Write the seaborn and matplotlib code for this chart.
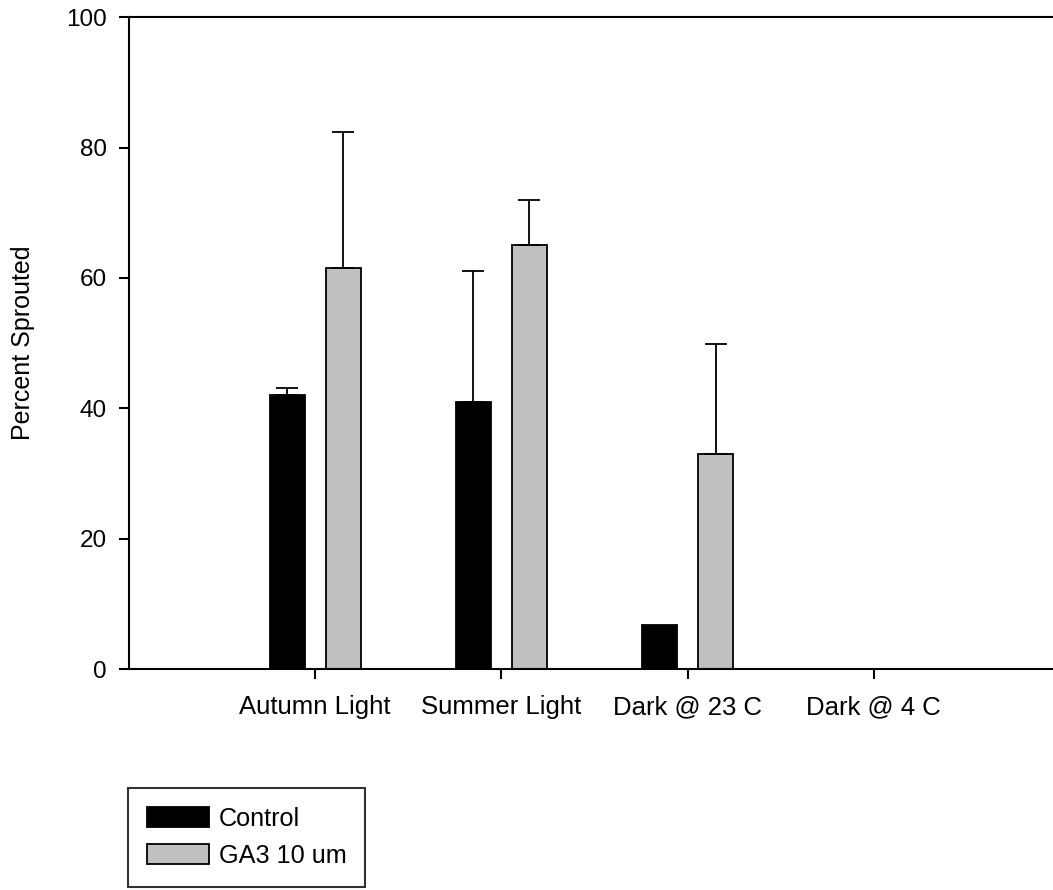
import matplotlib as mpl
mpl.use('Agg')
import matplotlib.pyplot as plt
import numpy as np
import pandas as pd
import seaborn as sns

# values
conditions = ['Autumn Light', 'Summer Light', 'Dark @ 23 C', 'Dark @ 4 C']
treatments = ['Control', 'GA3 10 um']
control_mean = [42.1, 40.9, 6.7, 0.0]
control_err = [1.0, 20.1, 0.0, 0.0]
ga3_mean = [61.6, 65.0, 33.0, 0.0]
ga3_err = [20.8, 7.0, 16.8, 0.0]
y_ticks = [0, 20, 40, 60, 80, 100]

df = pd.DataFrame({
    'Condition': conditions * 2,
    'Treatment': [treatments[0]] * 4 + [treatments[1]] * 4,
    'Percent': control_mean + ga3_mean,
})
errs = {treatments[0]: control_err, treatments[1]: ga3_err}

sns.set_style('white')
plt.rcParams['font.family'] = ['Liberation Sans', 'DejaVu Sans']
plt.rcParams['text.color'] = 'black'
plt.rcParams['axes.labelcolor'] = 'black'

fig = plt.figure(figsize=(10.53, 8.90), dpi=100)
ax = fig.add_axes([129 / 1053, 221 / 890, 931 / 1053, 651.7 / 890])

sns.barplot(
    data=df, x='Condition', y='Percent', hue='Treatment',
    order=conditions, hue_order=treatments,
    palette={treatments[0]: 'black', treatments[1]: '#c0c0c0'},
    width=0.6, gap=0.37, edgecolor='black', linewidth=1.3,
    errorbar=None, saturation=1, ax=ax,
)

# upward-only error bars on top of each bar
for cont, treat in zip(ax.containers, treatments):
    xs = np.array([b.get_x() + b.get_width() / 2 for b in cont])
    ys = np.array([b.get_height() for b in cont])
    e = np.array(errs[treat])
    keep = e > 0
    ax.errorbar(xs[keep], ys[keep], yerr=[np.zeros(keep.sum()), e[keep]],
                fmt='none', ecolor='black', elinewidth=1.3,
                capsize=7.8, capthick=1.3, zorder=3)

ax.set_xlim(-1, 4)
ax.set_ylim(0, 100)
ax.set_yticks(y_ticks)
ax.set_xlabel('')
ax.set_ylabel('Percent Sprouted', fontsize=18)
ax.yaxis.set_label_coords(-0.101, 0.5)
for s in ['left', 'bottom', 'top', 'right']:
    ax.spines[s].set_color('black')
    ax.spines[s].set_linewidth(1.5)
ax.tick_params(axis='both', direction='out', length=7, width=1.5,
               labelsize=17.5, colors='black')
ax.tick_params(axis='y', pad=9, left=True)
ax.tick_params(axis='x', pad=12, bottom=True, labelsize=18.5)

ax.get_legend().remove()
handles = [mpl.patches.Patch(facecolor='black', edgecolor='black', linewidth=1.3),
           mpl.patches.Patch(facecolor='#c0c0c0', edgecolor='black', linewidth=1.3)]
leg = fig.legend(handles, treatments, loc='upper left',
                 bbox_to_anchor=(127.7 / 1053, 1 - 788 / 890),
                 bbox_transform=fig.transFigure, borderaxespad=0,
                 fontsize=18.2, frameon=True, fancybox=False,
                 handlelength=2.45, handleheight=0.85, handletextpad=0.4,
                 labelspacing=0.5, borderpad=0.75)
leg.get_frame().set_edgecolor('black')
leg.get_frame().set_linewidth(1.5)
for t in leg.get_texts():
    t.set_color('black')

fig.savefig('out.png', dpi=100)
